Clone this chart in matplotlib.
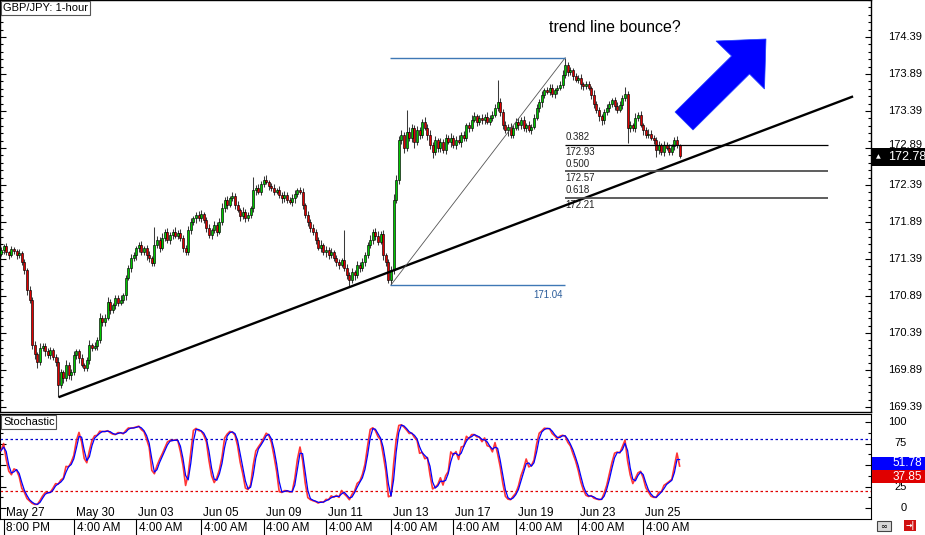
import numpy as np
import pandas as pd
import matplotlib
matplotlib.use("Agg")
import matplotlib.pyplot as plt
from matplotlib import transforms
from matplotlib.patches import Polygon, Rectangle
from matplotlib.lines import Line2D

# ---------------- data ----------------
first_open = 171.46
closes = [
    171.51, 171.56, 171.48, 171.45, 171.52, 171.50, 171.44, 171.47, 171.35, 171.24, 170.97, 170.84, 170.23, 170.10, 170.00, 170.19, 170.22, 170.14, 170.09, 170.16,
    170.07, 170.00, 169.69, 169.86, 169.78, 169.96, 169.82, 169.86, 170.09, 170.14, 170.05, 169.96, 169.92, 170.03, 170.23, 170.19, 170.22, 170.30, 170.59, 170.54,
    170.59, 170.81, 170.70, 170.77, 170.86, 170.80, 170.84, 170.90, 171.13, 171.27, 171.40, 171.44, 171.54, 171.58, 171.48, 171.54, 171.44, 171.40, 171.33, 171.58,
    171.65, 171.54, 171.68, 171.76, 171.65, 171.71, 171.76, 171.70, 171.74, 171.68, 171.54, 171.48, 171.78, 171.89, 171.94, 171.98, 171.94, 172.00, 171.92, 171.81,
    171.71, 171.78, 171.85, 171.76, 171.89, 172.08, 172.19, 172.12, 172.21, 172.24, 172.12, 172.05, 171.97, 172.03, 171.94, 171.98, 172.08, 172.32, 172.35, 172.30,
    172.40, 172.46, 172.43, 172.38, 172.35, 172.30, 172.32, 172.26, 172.21, 172.26, 172.19, 172.16, 172.21, 172.27, 172.32, 172.30, 172.12, 171.98, 171.89, 171.81,
    171.76, 171.65, 171.54, 171.58, 171.48, 171.51, 171.44, 171.48, 171.40, 171.35, 171.31, 171.38, 171.27, 171.17, 171.11, 171.21, 171.17, 171.31, 171.27, 171.35,
    171.44, 171.58, 171.65, 171.76, 171.70, 171.62, 171.73, 171.44, 171.35, 171.11, 171.24, 172.19, 172.46, 173.00, 173.07, 172.89, 173.11, 173.03, 173.16, 172.97,
    173.13, 173.07, 173.24, 173.16, 173.07, 172.93, 172.84, 173.00, 172.89, 172.97, 172.86, 173.03, 172.97, 173.03, 172.93, 173.00, 172.97, 173.07, 173.03, 173.20,
    173.16, 173.27, 173.32, 173.24, 173.30, 173.27, 173.31, 173.24, 173.30, 173.34, 173.43, 173.51, 173.38, 173.20, 173.13, 173.18, 173.07, 173.16, 173.24, 173.20,
    173.27, 173.16, 173.20, 173.13, 173.18, 173.30, 173.43, 173.51, 173.61, 173.67, 173.65, 173.70, 173.62, 173.67, 173.70, 173.74, 173.88, 174.01, 173.92, 173.94,
    173.86, 173.81, 173.83, 173.75, 173.73, 173.75, 173.70, 173.61, 173.48, 173.40, 173.32, 173.27, 173.38, 173.43, 173.48, 173.54, 173.46, 173.40, 173.47, 173.57,
    173.62, 173.16, 173.20, 173.16, 173.30, 173.34, 173.20, 173.13, 173.07, 173.08, 173.03, 173.00, 172.86, 172.93, 172.84, 172.93, 172.89, 172.84, 172.92, 173.00,
    172.93, 172.78,
]
# wick lengths in pips above / below the body
wick_up = [
    4, 3, 5, 2, 4, 3, 2, 5, 3, 4, 3, 6, 4, 5, 3, 6, 4, 3, 5, 4,
    3, 4, 6, 5, 3, 7, 4, 5, 6, 3, 4, 5, 3, 4, 6, 3, 5, 4, 7, 4,
    5, 6, 4, 3, 5, 4, 6, 3, 5, 4, 6, 5, 3, 4, 5, 3, 4, 6, 3, 24,
    5, 4, 6, 3, 5, 4, 3, 6, 4, 5, 3, 4, 6, 5, 3, 4, 6, 5, 3, 4,
    5, 3, 6, 4, 5, 7, 4, 5, 3, 6, 4, 5, 3, 6, 4, 5, 3, 18, 4, 5,
    4, 5, 6, 3, 4, 5, 3, 6, 4, 5, 3, 4, 6, 5, 3, 4, 5, 3, 6, 4,
    5, 3, 4, 6, 3, 5, 4, 6, 3, 5, 4, 3, 40, 5, 4, 6, 3, 5, 4, 6,
    5, 4, 6, 3, 5, 7, 4, 5, 3, 4, 5, 8, 6, 5, 7, 4, 29, 6, 5, 4,
    6, 5, 4, 7, 5, 6, 4, 5, 3, 6, 4, 5, 3, 6, 4, 5, 6, 4, 5, 3,
    4, 6, 5, 3, 4, 5, 4, 6, 3, 5, 6, 30, 5, 4, 6, 3, 5, 4, 6, 5,
    4, 5, 3, 6, 4, 5, 6, 4, 5, 3, 4, 6, 5, 3, 4, 5, 6, 10, 4, 5,
    3, 5, 4, 6, 3, 4, 5, 3, 6, 4, 5, 3, 4, 6, 5, 3, 4, 5, 6, 4,
    9, 4, 5, 3, 6, 4, 5, 3, 4, 6, 5, 3, 4, 5, 3, 6, 4, 5, 3, 4,
    5, 2,
]
wick_dn = [
    3, 5, 4, 6, 3, 4, 5, 3, 4, 5, 6, 4, 5, 6, 8, 4, 5, 6, 4, 5,
    4, 6, 17, 5, 6, 4, 5, 7, 4, 5, 6, 3, 5, 4, 6, 5, 3, 6, 4, 5,
    6, 3, 5, 4, 6, 5, 3, 4, 6, 3, 5, 4, 6, 5, 3, 4, 6, 5, 4, 3,
    4, 6, 3, 5, 4, 6, 5, 3, 4, 5, 6, 4, 3, 5, 4, 6, 3, 5, 4, 6,
    3, 5, 4, 6, 3, 4, 5, 6, 3, 4, 5, 3, 6, 4, 5, 3, 4, 5, 6, 3,
    5, 4, 3, 6, 4, 5, 3, 4, 6, 5, 4, 3, 5, 6, 4, 3, 5, 4, 6, 5,
    4, 6, 3, 5, 4, 6, 5, 3, 4, 6, 5, 3, 4, 5, 10, 4, 6, 3, 5, 4,
    5, 3, 4, 6, 5, 4, 3, 6, 5, 4, 7, 5, 4, 6, 5, 7, 4, 5, 6, 8,
    4, 6, 5, 3, 7, 5, 8, 4, 5, 6, 4, 5, 3, 6, 4, 5, 3, 6, 4, 5,
    6, 4, 3, 5, 4, 6, 5, 3, 4, 5, 3, 4, 6, 5, 4, 8, 5, 4, 3, 6,
    5, 4, 6, 3, 5, 4, 3, 5, 6, 4, 3, 5, 4, 6, 5, 3, 4, 5, 6, 4,
    5, 3, 4, 6, 5, 4, 3, 6, 5, 4, 7, 7, 5, 4, 6, 3, 5, 4, 3, 5,
    4, 20, 5, 4, 6, 5, 3, 6, 4, 5, 3, 6, 9, 5, 4, 6, 3, 5, 4, 6,
    4, 3,
]

date_labels = ["May 27", "May 30", "Jun 03", "Jun 05", "Jun 09", "Jun 11",
               "Jun 13", "Jun 17", "Jun 19", "Jun 23", "Jun 25"]
time_labels = ["8:00 PM", "4:00 AM", "4:00 AM", "4:00 AM", "4:00 AM", "4:00 AM",
               "4:00 AM", "4:00 AM", "4:00 AM", "4:00 AM", "4:00 AM"]
label_bars = [1, 28, 52, 77, 101, 125, 150, 174, 198, 222, 247]

price_ticks = [169.39, 169.89, 170.39, 170.89, 171.39, 171.89, 172.39, 172.89, 173.39, 173.89, 174.39]
stoch_ticks = [0, 25, 75, 100]
stoch_levels = [20, 80]
fib_ratios = [0.382, 0.5, 0.618]
fib_bars = [150, 217]          # swing low / swing high bars
trend_bars = [22, 134]         # lows the trend line is drawn through
last_price = "172.78"
last_k, last_d = 37.85, 51.78

# ---------------- layout helpers (pixel geometry) ----------------
W, H = 925, 535
BAR_PX = 2.6
fig = plt.figure(figsize=(W / 100, H / 100), dpi=100)
fig.patch.set_facecolor("white")
FONT = "Liberation Sans"


def add_px_axes(l, t, r, b):
    return fig.add_axes([l / W, 1 - b / H, (r - l) / W, (b - t) / H])


def fx(px):
    return px / W


def fy(py):
    return 1 - py / H


ax = add_px_axes(0, 0, 871, 412)
ax_st = add_px_axes(0, 414, 871, 519)
xlim = ((0 - 1) / BAR_PX, (871 - 1) / BAR_PX)

# ---------------- candles ----------------
c = np.array(closes)
o = np.r_[first_open, c[:-1]]
hi = np.maximum(o, c) + np.array(wick_up) / 100
lo = np.minimum(o, c) - np.array(wick_dn) / 100
x = np.arange(len(c))
up = c >= o

ax.vlines(x, lo, hi, color="#3a3a3a", lw=0.75, zorder=2)
body = np.where(np.abs(c - o) < 0.005, 0.005, c - o)
ax.bar(x, body, bottom=o, width=0.8, color=np.where(up, "#00c800", "#e00000"),
       edgecolor="black", linewidth=0.45, zorder=3)

ax.set_xlim(*xlim)
ax.set_ylim(174.39 - (412 - 37) / 74, 174.39 + 37 / 74)

# trend line through two lows, extended to the right
t0, t1 = trend_bars
slope = (lo[t1] - lo[t0]) / (t1 - t0)
tx = np.array([t0 + 0.6, 327.3])
ax.plot(tx, lo[t0] + slope * (tx - t0), color="black", lw=1.7, zorder=4)

# fibonacci retracement
f0, f1 = fib_bars
fib_lo, fib_hi = lo[f0], hi[f1]
ax.plot([f0, f1], [fib_lo, fib_hi], color="#555555", lw=0.6, zorder=4)
ax.hlines([fib_hi, fib_lo], f0 - 0.5, f1, color="#3f78b5", lw=1.0, zorder=4)
ax.annotate("%.2f" % fib_lo, (f1 - 1, fib_lo), xytext=(0, -7), textcoords="offset points",
            ha="right", va="center", fontsize=7, color="#2a5c9a", family=FONT)
for r in fib_ratios:
    lvl = fib_hi - r * (fib_hi - fib_lo)
    ax.hlines(lvl, f1, 318, color="black" if r == 0.382 else "#505050",
              lw=0.9 if r == 0.382 else 1.3, zorder=4)
    ax.annotate("%.3f" % r, (f1, lvl), xytext=(0, 2), textcoords="offset points",
                ha="left", va="bottom", fontsize=7, color="#222222", family=FONT)
    ax.annotate("%.2f" % (np.floor(lvl * 100 + 1e-6) / 100), (f1, lvl), xytext=(0, -1.5),
                textcoords="offset points", ha="left", va="top", fontsize=7,
                color="#222222", family=FONT)

# ---------------- price axis ----------------
ax.set_xticks([])
ax.set_yticks(price_ticks)
ax.set_yticks(np.arange(169.39, 174.9, 0.1), minor=True)
ax.tick_params(axis="y", which="both", direction="in", left=True, right=True,
               labelleft=False, labelright=False, width=0.8, color="black")
ax.tick_params(axis="y", which="major", length=4.5)
ax.tick_params(axis="y", which="minor", length=2.5)
ytr = transforms.blended_transform_factory(ax.transAxes, ax.transData)
for p in price_ticks:
    # 172.89 sits half under the current-price box, as in the terminal
    ax.text(888 / 871, p + (0.04 if p == 172.89 else 0), "%.2f" % p, transform=ytr,
            ha="left", va="center", fontsize=8, family=FONT, clip_on=False)
for s in ax.spines.values():
    s.set_linewidth(1.0)

# ---------------- stochastic ----------------
K_PERIOD, SLOW, D_PERIOD = 8, 3, 2
hh = pd.Series(hi).rolling(K_PERIOD, min_periods=1).max()
ll = pd.Series(lo).rolling(K_PERIOD, min_periods=1).min()
num = (pd.Series(c) - ll).rolling(SLOW, min_periods=1).sum()
den = (hh - ll).rolling(SLOW, min_periods=1).sum()
k = 100 * num / den
d = k.rolling(D_PERIOD, min_periods=1).mean()

ax_st.plot(x, k, color="#ff2020", lw=1.2, alpha=0.9, zorder=3)
ax_st.plot(x, d, color="#0000ff", lw=0.9, zorder=4)
ax_st.axhline(stoch_levels[1], color="#0000cc", lw=0.9, ls=(0, (2, 2)), zorder=2)
ax_st.axhline(stoch_levels[0], color="#e00000", lw=0.9, ls=(0, (2, 2)), zorder=2)
ax_st.set_xlim(*xlim)
ax_st.set_ylim(-(519 - 508) / 0.86, (508 - 414) / 0.86)
ax_st.set_xticks([])
ax_st.set_yticks([0, 25, 50, 75, 100])
ax_st.set_yticks(np.arange(0, 101, 12.5), minor=True)
ax_st.tick_params(axis="y", which="both", direction="in", left=True, right=True,
                  labelleft=False, labelright=False, width=0.8)
ax_st.tick_params(axis="y", which="major", length=4.5)
ax_st.tick_params(axis="y", which="minor", length=2.5)
str_ = transforms.blended_transform_factory(ax_st.transAxes, ax_st.transData)
for v in stoch_ticks:
    ax_st.text(907 / 871, v, str(v), transform=str_, ha="right", va="center",
               fontsize=8, family=FONT, clip_on=False)

# x axis labels: dates inside the indicator pane, times underneath
for b, dl, tl in zip(label_bars, date_labels, time_labels):
    ax_st.annotate(dl, (b, fy(513)), xycoords=("data", "figure fraction"),
                   xytext=(1.5, 0), textcoords="offset points", ha="left", va="center",
                   fontsize=8.5, family=FONT, annotation_clip=False)
    ax_st.annotate(tl, (b, fy(528)), xycoords=("data", "figure fraction"),
                   xytext=(2, 0), textcoords="offset points", ha="left", va="center",
                   fontsize=8.5, family=FONT, annotation_clip=False)
    sep = Line2D([b, b], [fy(519), fy(535)], color="black", lw=0.8,
                 transform=transforms.blended_transform_factory(ax_st.transData, fig.transFigure))
    fig.add_artist(sep)

# ---------------- labels and boxes on top ----------------
fig.text(fx(3), fy(8), "GBP/JPY: 1-hour", fontsize=8, family=FONT, va="center",
         bbox=dict(boxstyle="square,pad=0.15", fc="white", ec="#555555", lw=0.8))
fig.text(fx(3), fy(422), "Stochastic", fontsize=8, family=FONT, va="center",
         bbox=dict(boxstyle="square,pad=0.15", fc="white", ec="#555555", lw=0.8))
fig.text(fx(615), fy(28), "trend line bounce?", fontsize=11.5, family=FONT,
         ha="center", va="center")

# current price marker
fig.add_artist(Rectangle((fx(872), fy(166)), fx(53), 18 / H, transform=fig.transFigure,
                         fc="black", ec="none", zorder=5))
fig.text(fx(876), fy(157), "\u25b2", fontsize=4.5, color="white", va="center", zorder=6)
fig.text(fx(888), fy(157), last_price, fontsize=9, family=FONT, color="white",
         va="center", zorder=6)

# indicator value boxes
for val, col, top in [(last_d, "#0000ff", 457), (last_k, "#e00000", 470)]:
    fig.add_artist(Rectangle((fx(872), fy(top + 13)), fx(53), 13 / H, transform=fig.transFigure,
                             fc=col, ec="none", zorder=5))
    fig.text(fx(922), fy(top + 6.5), "%.2f" % val, fontsize=8.5, family=FONT, color="white",
             ha="right", va="center", zorder=6)

# little toolbar icons bottom right
fig.add_artist(Rectangle((fx(877), fy(531)), fx(14), 10 / H, transform=fig.transFigure,
                         fc="#d8d8d8", ec="#444444", lw=0.8, zorder=5))
fig.text(fx(884), fy(526), "\u221e", fontsize=6, ha="center", va="center", zorder=6)
fig.add_artist(Rectangle((fx(904), fy(531)), fx(12), 11 / H, transform=fig.transFigure,
                         fc="#d01010", ec="none", zorder=5))
fig.text(fx(910), fy(525.5), "\u2192|", fontsize=5.5, color="white", fontweight="bold",
         ha="center", va="center", zorder=6)

# blue arrow (pixel geometry)
arrow_px = [(675, 112), (731.5, 56), (716, 41), (766, 39), (764.5, 89), (749.5, 74), (693, 130)]
fig.add_artist(Polygon([(fx(px), fy(py)) for px, py in arrow_px], closed=True,
                       transform=fig.transFigure, fc="#0000ff", ec="#2040ff", lw=0.5, zorder=5))

fig.savefig("out.png", dpi=100, facecolor="white")
